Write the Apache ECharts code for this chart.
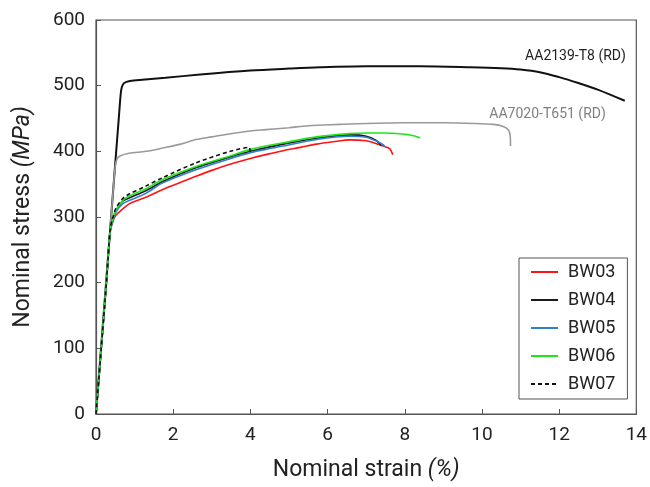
<!DOCTYPE html>
<html>
<head>
<meta charset="utf-8">
<title>Nominal stress–strain curves</title>
<script src="https://cdn.jsdelivr.net/npm/echarts@6/dist/echarts.min.js"></script>
<style>
  html, body { margin: 0; padding: 0; background: #fff; }
  #chart { width: 650px; height: 487px; }
</style>
</head>
<body>
<div id="chart"></div>
<script>
// Axis ticks
const strainTicks = [0, 2, 4, 6, 8, 10, 12, 14];
const stressTicks = [0, 100, 200, 300, 400, 500, 600];

// Reference alloys (nominal strain in %, nominal stress in MPa)
const aa2139Strain = [0, 0.47, 0.59, 0.64, 0.67, 0.73, 0.88, 1.2, 1.8, 2.7, 4.0, 5.0, 5.8, 7.0, 8.4, 9.7, 10.5, 11.0, 11.5, 12.0, 12.5, 13.0, 13.7];
const aa2139Stress = [0, 360, 450, 487, 498, 504, 507, 509, 512, 517, 523, 526, 528, 529.5, 529.5, 528, 526.5, 524.5, 520.5, 513, 504, 494, 477];

const aa7020Strain = [0, 0.45, 0.5, 0.55, 0.62, 0.86, 1.3, 1.73, 2.2, 2.59, 3.0, 3.45, 4.0, 4.4, 5.0, 5.5, 6.3, 7.0, 8.0, 9.0, 9.8, 10.3, 10.55, 10.68, 10.73, 10.74];
const aa7020Stress = [0, 345, 378, 389, 393, 397, 400, 405, 411, 418, 422, 426.5, 431, 433, 436, 439, 441, 442.5, 443.5, 443.5, 442.5, 441, 438, 433, 425, 408];

// Test specimens
const bw03Strain = [0, 0.27, 0.37, 0.45, 0.52, 0.65, 0.86, 1.29, 1.73, 2.33, 2.59, 3.0, 3.45, 4.0, 4.4, 4.85, 5.3, 5.71, 6.2, 6.57, 7.0, 7.25, 7.44, 7.61, 7.69];
const bw03Stress = [0, 200, 278, 295, 303, 310, 320, 330, 342, 356, 362, 371, 380, 389, 395, 401, 406, 411, 415, 417.5, 416, 412, 408, 404, 395];

const bw04Strain = [0, 0.27, 0.37, 0.45, 0.52, 0.69, 0.86, 1.29, 1.73, 2.59, 3.45, 4.0, 4.85, 5.71, 6.57, 7.0, 7.26, 7.39];
const bw04Stress = [0, 200, 280, 299, 310, 324, 329, 340, 354, 375, 391, 400, 411, 420, 425, 423, 416.5, 409];

const bw05Strain = [0, 0.27, 0.37, 0.45, 0.52, 0.69, 0.86, 1.29, 1.73, 2.59, 3.45, 4.0, 4.4, 4.85, 5.71, 6.57, 7.0, 7.25, 7.44, 7.48];
const bw05Stress = [0, 200, 279, 297, 308, 320, 325, 336, 352, 372, 388.5, 398, 403, 408, 418, 423, 421.5, 416, 410, 407];

const bw06Strain = [0, 0.27, 0.37, 0.45, 0.52, 0.69, 0.86, 1.29, 1.73, 2.59, 3.45, 4.0, 4.4, 4.85, 5.71, 6.57, 7.0, 7.44, 7.95, 8.2, 8.39];
const bw06Stress = [0, 200, 281, 300, 311, 325, 332, 343, 357, 377, 392.5, 403, 408, 413, 422, 427, 428, 428, 426.5, 424, 420.5];

const bw07Strain = [0, 0.27, 0.37, 0.45, 0.52, 0.69, 0.86, 1.29, 1.73, 2.59, 3.45, 3.97, 3.99];
const bw07Stress = [0, 200, 282, 302, 314, 328, 335, 347, 360, 382.5, 399.5, 406, 400];

const pairs = (xs, ys) => xs.map((x, i) => [x, ys[i]]);

const FONT = 'Roboto';
const chart = echarts.init(document.getElementById('chart'), null, { renderer: 'canvas' });

const specimen = (name, xs, ys, color, type) => ({
  name,
  type: 'line',
  data: pairs(xs, ys),
  symbol: 'none',
  smooth: 0.3,
  lineStyle: { color, width: 1.6, type: type || 'solid' },
  itemStyle: { color },
  animation: false
});

const alloyLabel = (text, coord, color) => ({
  symbol: 'rect',
  symbolSize: 0,
  silent: true,
  data: [{
    coord,
    label: {
      show: true,
      position: 'inside',
      align: 'right',
      verticalAlign: 'middle',
      formatter: text,
      color,
      fontFamily: FONT,
      fontSize: 14
    }
  }]
});

chart.setOption({
  backgroundColor: '#ffffff',
  animation: false,
  grid: {
    left: 96, right: 13, top: 20, bottom: 72,
    show: true,
    borderColor: '#555',
    borderWidth: 1.2,
    backgroundColor: 'transparent'
  },
  xAxis: {
    type: 'value',
    min: strainTicks[0],
    max: strainTicks[strainTicks.length - 1],
    interval: 2,
    name: '{a|Nominal strain }{b|(%)}',
    nameLocation: 'middle',
    nameGap: 45,
    nameTextStyle: {
      rich: {
        a: { fontFamily: FONT, fontSize: 23, color: '#222' },
        b: { fontFamily: FONT, fontSize: 23, fontStyle: 'italic', color: '#222' }
      }
    },
    axisLine: { show: true, onZero: false, lineStyle: { color: '#555', width: 1.2 } },
    axisTick: { show: true, inside: true, length: 5, lineStyle: { color: '#555' } },
    axisLabel: { fontFamily: FONT, fontSize: 19, color: '#222', margin: 12 },
    splitLine: { show: false }
  },
  yAxis: {
    type: 'value',
    min: stressTicks[0],
    max: stressTicks[stressTicks.length - 1],
    interval: 100,
    name: '{a|Nominal stress }{b|(MPa)}',
    nameLocation: 'middle',
    nameGap: 61,
    nameTextStyle: {
      rich: {
        a: { fontFamily: FONT, fontSize: 23, color: '#222' },
        b: { fontFamily: FONT, fontSize: 23, fontStyle: 'italic', color: '#222' }
      }
    },
    axisLine: { show: true, onZero: false, lineStyle: { color: '#555', width: 1.2 } },
    axisTick: { show: true, inside: true, length: 5, lineStyle: { color: '#555' } },
    axisLabel: { fontFamily: FONT, fontSize: 19, color: '#222', margin: 11 },
    splitLine: { show: false }
  },
  legend: {
    data: ['BW03', 'BW04', 'BW05', 'BW06', 'BW07'],
    orient: 'vertical',
    left: 519,
    top: 258,
    padding: [5, 12, 6, 11],
    itemWidth: 27,
    itemHeight: 18,
    itemGap: 10,
    itemStyle: { opacity: 0 },
    backgroundColor: '#fff',
    borderColor: '#555',
    borderWidth: 1,
    borderRadius: 0,
    textStyle: { fontFamily: FONT, fontSize: 18, color: '#222', padding: [0, 0, 0, 5] }
  },
  series: [
    {
      name: 'AA2139-T8 (RD)',
      type: 'line',
      data: pairs(aa2139Strain, aa2139Stress),
      symbol: 'none',
      smooth: 0.3,
      lineStyle: { color: '#111', width: 2 },
      itemStyle: { color: '#111' },
      markPoint: alloyLabel('AA2139-T8 (RD)', [13.73, 544], '#222')
    },
    {
      name: 'AA7020-T651 (RD)',
      type: 'line',
      data: pairs(aa7020Strain, aa7020Stress),
      symbol: 'none',
      smooth: 0.3,
      lineStyle: { color: '#9a9a9a', width: 1.6 },
      itemStyle: { color: '#9a9a9a' },
      markPoint: alloyLabel('AA7020-T651 (RD)', [13.21, 456], '#808080')
    },
    specimen('BW03', bw03Strain, bw03Stress, '#ff1414'),
    specimen('BW04', bw04Strain, bw04Stress, '#1a1a1a'),
    specimen('BW05', bw05Strain, bw05Stress, '#2f7fd0'),
    specimen('BW06', bw06Strain, bw06Stress, '#1ee61a'),
    specimen('BW07', bw07Strain, bw07Stress, '#111', [4, 3])
  ]
});
</script>
</body>
</html>
